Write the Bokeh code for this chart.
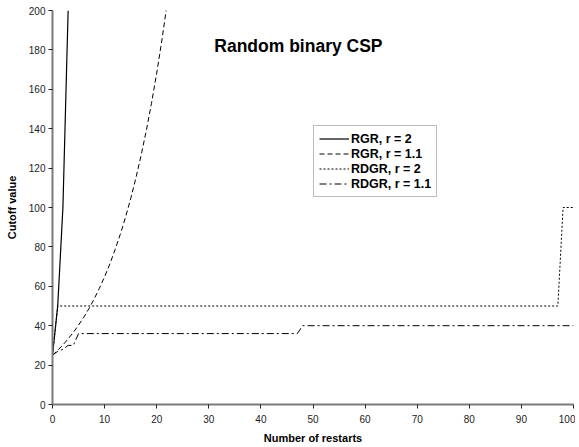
from bokeh.plotting import figure
from bokeh.models import FixedTicker, Range1d, Legend, LegendItem, Label
from bokeh.embed import file_html
from bokeh.resources import INLINE

# Data
rgr2_x = [0, 1, 2, 3]
rgr2_y = [25, 50, 100, 200]

rgr11_x = list(range(0, 23))
rgr11_y = [25, 27.5, 30.25, 33.3, 36.6, 40.3, 44.3, 48.7, 53.6, 59.0, 64.8,
           71.3, 78.5, 86.3, 94.9, 104.4, 114.9, 126.4, 139.0, 152.9, 168.2,
           185.0, 203.5]

rdgr2_x = [0, 1, 97, 98, 100]
rdgr2_y = [25, 50, 50, 100, 100]

rdgr11_x = [0, 1, 2, 3, 4, 5, 47, 48, 100]
rdgr11_y = [25, 27, 28, 30, 30, 36, 36, 40, 40]

x_ticks = [0, 10, 20, 30, 40, 50, 60, 70, 80, 90, 100]
y_ticks = [0, 20, 40, 60, 80, 100, 120, 140, 160, 180, 200]

title_text = "Random binary CSP"
x_label = "Number of restarts"
y_label = "Cutoff value"
names = ["RGR, r = 2", "RGR, r = 1.1", "RDGR, r = 2", "RDGR, r = 1.1"]

FONT = "Liberation Sans"

p = figure(width=575, height=447, output_backend="svg", toolbar_location=None,
           x_range=Range1d(0, 100), y_range=Range1d(0, 200),
           min_border_left=52, min_border_right=2, min_border_top=10,
           min_border_bottom=43)
p.outline_line_color = None
p.xgrid.grid_line_color = None
p.ygrid.grid_line_color = None
p.background_fill_color = "white"

r1 = p.line(rgr2_x, rgr2_y, line_color="black", line_width=1.2)
r2 = p.line(rgr11_x, rgr11_y, line_color="black", line_width=1, line_dash="5 3")
r3 = p.line(rdgr2_x, rdgr2_y, line_color="black", line_width=1, line_dash="2 2")
r4 = p.line(rdgr11_x, rdgr11_y, line_color="black", line_width=1, line_dash="7 3 2 3")

for ax, ticks in ((p.xaxis[0], x_ticks), (p.yaxis[0], y_ticks)):
    ax.ticker = FixedTicker(ticks=ticks)
    ax.minor_tick_line_color = None
    ax.major_tick_in = 0
    ax.major_tick_out = 4
    ax.major_tick_line_color = "#222222"
    ax.axis_line_color = "#7a7a7a"
    ax.axis_line_width = 2
    ax.major_label_text_font = FONT
    ax.major_label_text_font_size = "10px"
    ax.major_label_text_color = "#222222"
    ax.axis_label_text_font = FONT
    ax.axis_label_text_font_size = "11px"
    ax.axis_label_text_font_style = "bold"
    ax.axis_label_text_color = "black"

p.xaxis[0].axis_label = x_label
p.yaxis[0].axis_label = y_label
p.xaxis[0].major_label_standoff = 6
p.xaxis[0].axis_label_standoff = 6
p.yaxis[0].major_label_standoff = 3
p.yaxis[0].axis_label_standoff = 8

title = Label(x=47.2, y=182, text=title_text, text_font=FONT,
              text_font_size="17.5px", text_font_style="bold",
              text_align="center", text_baseline="middle", text_color="black")
p.add_layout(title)

legend = Legend(items=[LegendItem(label=n, renderers=[r]) for n, r in
                       zip(names, [r1, r2, r3, r4])],
                location=(261, 207))
legend.label_text_font = FONT
legend.label_text_font_size = "12.5px"
legend.label_text_font_style = "bold"
legend.label_text_color = "black"
legend.glyph_width = 30
legend.glyph_height = 15
legend.label_height = 15
legend.label_standoff = 2
legend.spacing = 0
legend.padding = 5
legend.margin = 0
legend.border_line_color = "#7a7a7a"
legend.border_line_width = 1.5
legend.background_fill_color = "white"
legend.background_fill_alpha = 1
p.add_layout(legend, "center")

open("out.html", "w").write(file_html(p, INLINE))
